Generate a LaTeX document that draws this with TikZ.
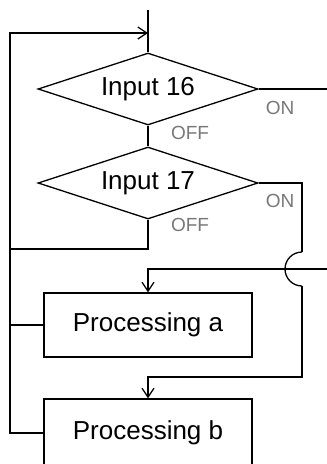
\documentclass[tikz,border=0pt]{standalone}
\usepackage{fontspec}
\setmainfont{Liberation Sans}
\usepackage{tikz}
\usetikzlibrary{arrows.meta, shapes.geometric}
\definecolor{labelgray}{RGB}{120,120,120}

\begin{document}
\begin{tikzpicture}[x=1pt, y=-1pt, line width=1.3pt,
  decision/.style={diamond, draw, aspect=3, inner sep=0pt, minimum width=220pt, minimum height=72pt, font=\fontsize{26}{26}\selectfont},
  procbox/.style={rectangle, draw, minimum width=208pt, minimum height=64pt, font=\fontsize{26}{26}\selectfont},
  flag/.style={font=\fontsize{19}{19}\selectfont, text=labelgray, inner sep=0pt},
  flow/.style={-{Straight Barb[length=9pt, width=12pt]}}]

% Frame
\useasboundingbox (0,0) rectangle (327,464);
\clip (0,0) rectangle (327,464);

% Decisions
\node[decision] (in16) at (148,89) {Input 16};
\node[decision] (in17) at (148,183) {Input 17};

% Processing
\node[procbox] (proca) at (148,325) {Processing a};
\node[procbox, minimum height=68pt] (procb) at (148,433) {Processing b};

% Branch labels
\node[flag] (on16) at (280,108) {ON};
\node[flag] (off16) at (190,133) {OFF};
\node[flag] (on17) at (280,201) {ON};
\node[flag] (off17) at (190,225) {OFF};

% Route points
\coordinate (entry) at (148,10);
\coordinate (merge) at (148,33);
\coordinate (rail) at (10,249);
\coordinate (exit16) at (327,89);
\coordinate (back16) at (327,269);
\coordinate (jumptop) at (302,252);
\coordinate (jumpbot) at (302,286);
\coordinate (turnb) at (148,377);

% Connectors
\draw (entry) -- (in16.north);
\draw (in16.south) -- (in17.north);
\draw[flow] (in17.south) |- (rail) |- (merge);
\draw (rail) |- (procb.west);
\draw (rail |- proca.west) -- (proca.west);
\draw (in16.east) -- (exit16);
\draw[flow] (back16) -| (proca.north);
% ON of input 17, hopping over the line above
\draw (in17.east) -| (jumptop);
\draw (jumptop) arc[start angle=90, end angle=270, radius=17pt];
\draw[flow] (jumpbot) |- (turnb) -- (procb.north);
\end{tikzpicture}
\end{document}
